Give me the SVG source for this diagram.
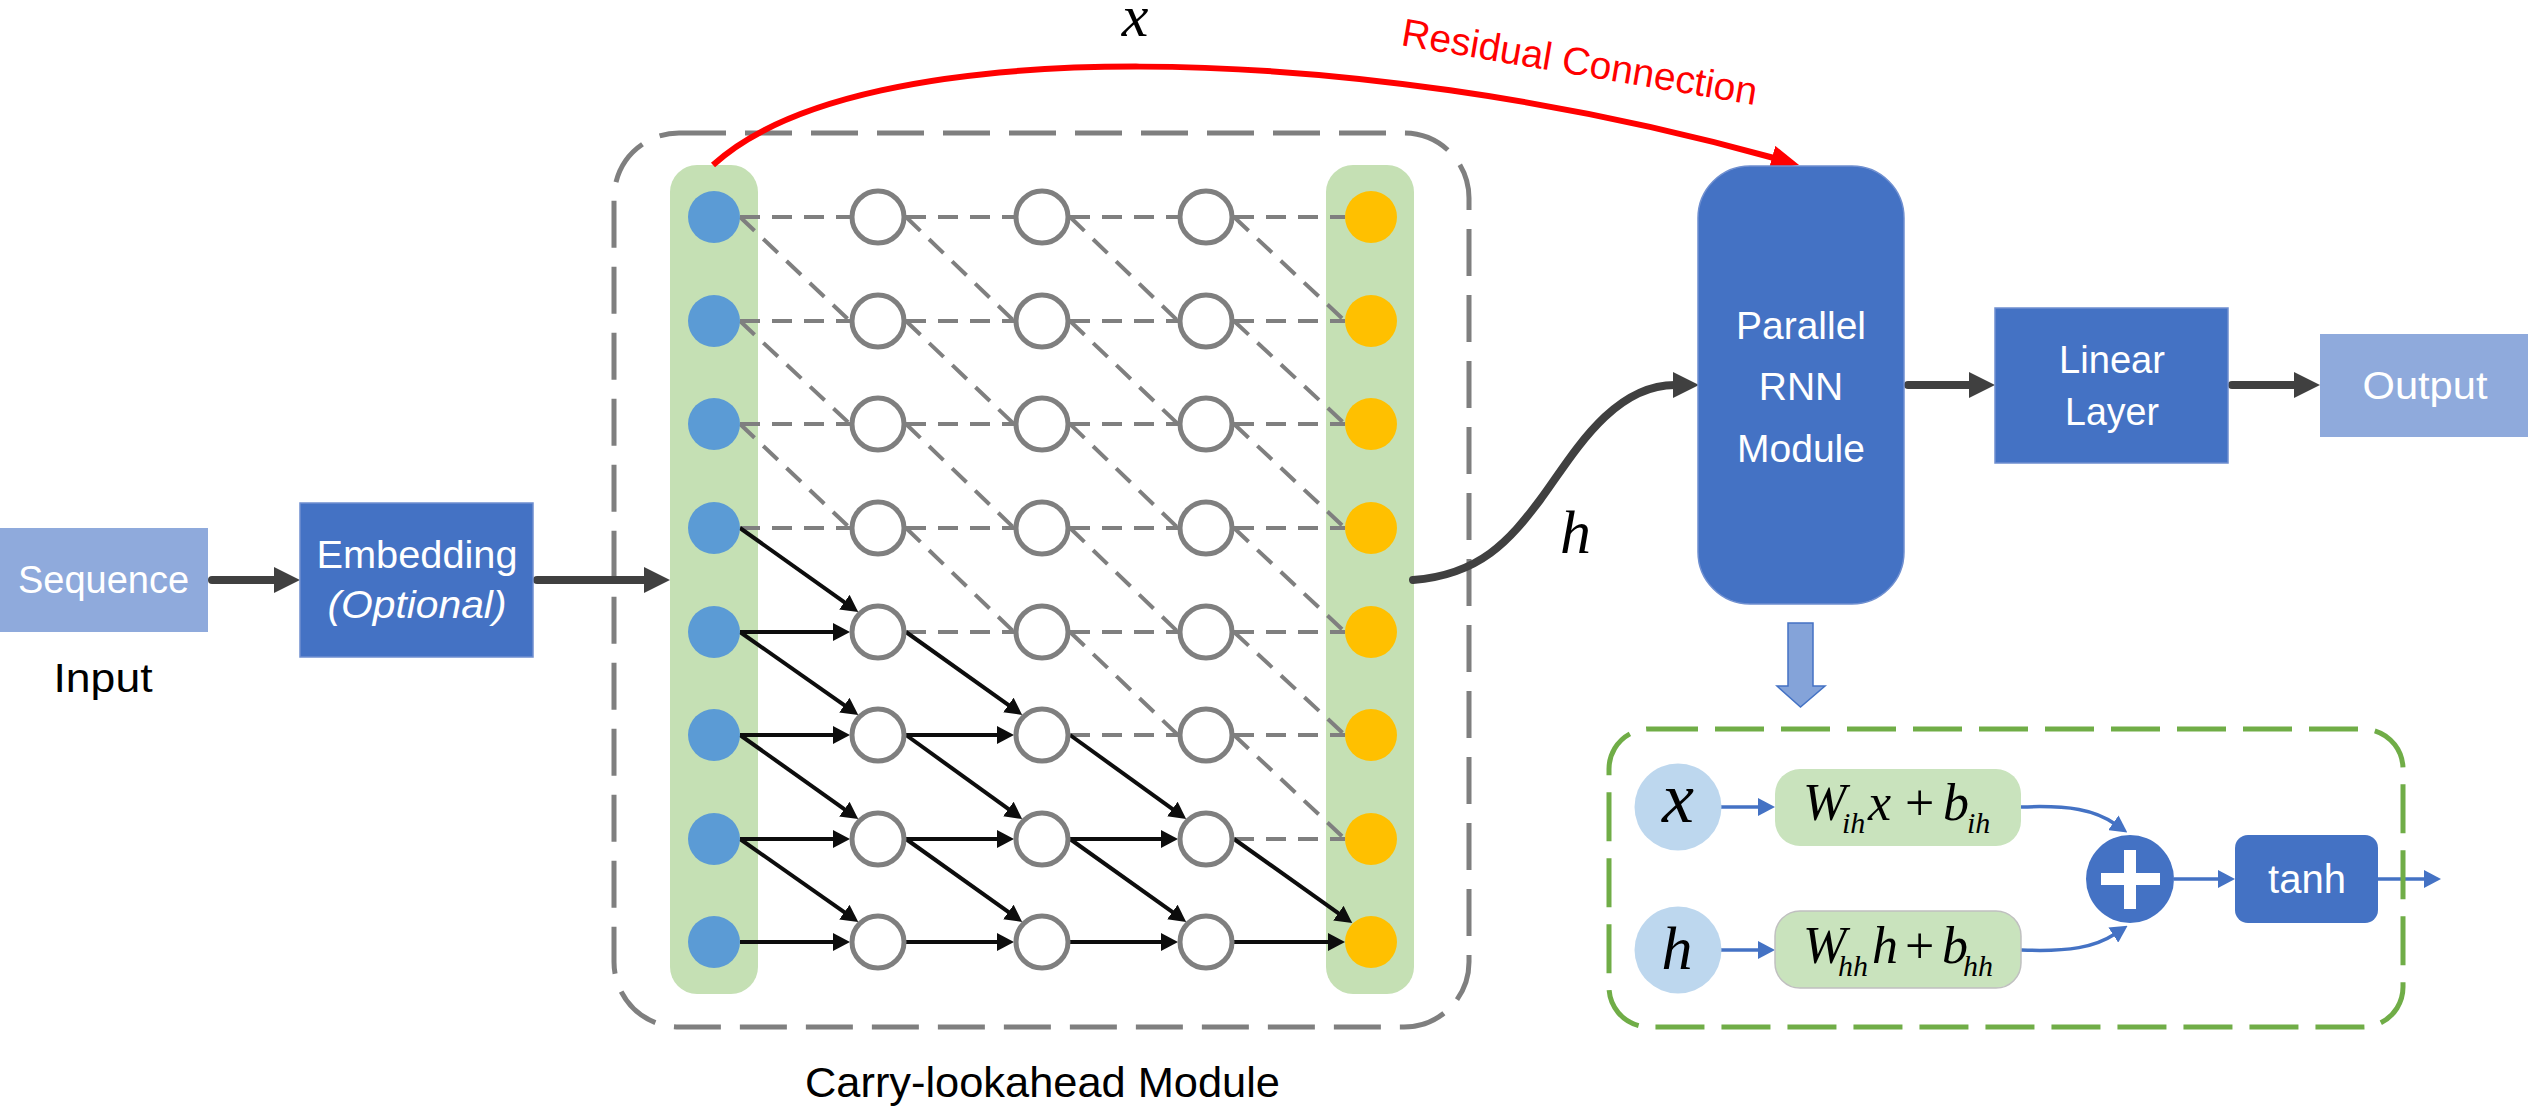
<svg xmlns="http://www.w3.org/2000/svg" width="2528" height="1107" viewBox="0 0 2528 1107">
<defs>
<style>
.sans{font-family:"Liberation Sans",Arial,sans-serif;}
.math{font-family:"Liberation Serif","Times New Roman",serif;font-style:italic;fill:#000;}
.wt{fill:#fff;}
.dark{fill:#4472C4;stroke:#6F8FD0;stroke-width:1.5;}
.light{fill:#8FAADC;}
.col{fill:#C5E0B4;}
.bnode{fill:#5B9BD5;}
.onode{fill:#FFC000;}
.hnode{fill:#fff;stroke:#7F7F7F;stroke-width:5;}
.grid{fill:none;stroke:#7F7F7F;stroke-width:4;stroke-dasharray:20 12;}
.solid{stroke:#0D0D0D;stroke-width:4;fill:none;marker-end:url(#ahBlack);}
.thick{stroke:#404040;stroke-width:8;fill:none;stroke-linecap:round;marker-end:url(#ahDark);}
.blue{stroke:#4472C4;stroke-width:3.5;fill:none;marker-end:url(#ahBlue);}
</style>
<marker id="ahBlack" markerUnits="userSpaceOnUse" viewBox="0 0 17 18" markerWidth="17" markerHeight="18" refX="2" refY="9" orient="auto"><path d="M0,0 L17,9 L0,18 z" fill="#0D0D0D"/></marker>
<marker id="ahDark" markerUnits="userSpaceOnUse" viewBox="0 0 26 26" markerWidth="26" markerHeight="26" refX="2" refY="13" orient="auto"><path d="M0,0 L26,13 L0,26 z" fill="#404040"/></marker>
<marker id="ahBlue" markerUnits="userSpaceOnUse" viewBox="0 0 17 18" markerWidth="17" markerHeight="18" refX="2" refY="9" orient="auto"><path d="M0,0 L17,9 L0,18 z" fill="#4472C4"/></marker>
<marker id="ahRed" markerUnits="userSpaceOnUse" viewBox="0 0 28 24" markerWidth="28" markerHeight="24" refX="2" refY="12" orient="auto"><path d="M0,0 L28,12 L0,24 z" fill="#FF0000"/></marker>
</defs>
<rect x="0" y="0" width="2528" height="1107" fill="#fff"/>

<g id="carry-lookahead-module">
<rect x="614" y="133" width="855" height="894" rx="65" fill="none" stroke="#7F7F7F" stroke-width="5" stroke-dasharray="47 19"/>
<text class="sans" x="805" y="1097" font-size="42" textLength="475" lengthAdjust="spacingAndGlyphs">Carry-lookahead Module</text>
</g>

<g id="input-column">
<rect class="col" x="670" y="165" width="88" height="829" rx="27"/>
</g>
<g id="output-column">
<rect class="col" x="1326" y="165" width="88" height="829" rx="27"/>
</g>

<g id="connectors">
<path class="grid" d="M740,217 H850 M740,321 H850 M740,424 H850 M740,528 H850
M740,217 L850,321 M740,321 L850,424 M740,424 L850,528"/>
<path class="grid" d="M906,217 H1014 M906,321 H1014 M906,424 H1014 M906,528 H1014 M906,632 H1014
M906,217 L1014,321 M906,321 L1014,424 M906,424 L1014,528 M906,528 L1014,632"/>
<path class="grid" d="M1070,217 H1178 M1070,321 H1178 M1070,424 H1178 M1070,528 H1178 M1070,632 H1178 M1070,735 H1178
M1070,217 L1178,321 M1070,321 L1178,424 M1070,424 L1178,528 M1070,528 L1178,632 M1070,632 L1178,735"/>
<path class="grid" d="M1234,217 H1345 M1234,321 H1345 M1234,424 H1345 M1234,528 H1345 M1234,632 H1345 M1234,735 H1345 M1234,839 H1345
M1234,217 L1345,321 M1234,321 L1345,424 M1234,424 L1345,528 M1234,528 L1345,632 M1234,632 L1345,735 M1234,735 L1345,839"/>
<line class="solid" x1="740" y1="632" x2="835" y2="632"/>
<line class="solid" x1="740" y1="735" x2="835" y2="735"/>
<line class="solid" x1="740" y1="839" x2="835" y2="839"/>
<line class="solid" x1="740" y1="942" x2="835" y2="942"/>
<line class="solid" x1="906" y1="735" x2="999" y2="735"/>
<line class="solid" x1="906" y1="839" x2="999" y2="839"/>
<line class="solid" x1="906" y1="942" x2="999" y2="942"/>
<line class="solid" x1="1070" y1="839" x2="1163" y2="839"/>
<line class="solid" x1="1070" y1="942" x2="1163" y2="942"/>
<line class="solid" x1="1234" y1="942" x2="1330" y2="942"/>
<line class="solid" x1="740" y1="528" x2="846" y2="603.3"/>
<line class="solid" x1="740" y1="632" x2="846" y2="706.3"/>
<line class="solid" x1="740" y1="735" x2="846" y2="810.3"/>
<line class="solid" x1="740" y1="839" x2="846" y2="913.3"/>
<line class="solid" x1="906" y1="632" x2="1010" y2="706.2"/>
<line class="solid" x1="906" y1="735" x2="1010" y2="810.2"/>
<line class="solid" x1="906" y1="839" x2="1010" y2="913.2"/>
<line class="solid" x1="1070" y1="735" x2="1174" y2="810.2"/>
<line class="solid" x1="1070" y1="839" x2="1174" y2="913.2"/>
<line class="solid" x1="1234" y1="839" x2="1340" y2="914.3"/>

<line class="thick" x1="212" y1="580" x2="276" y2="580"/>
<line class="thick" x1="537" y1="580" x2="646" y2="580"/>
<path class="thick" d="M1413,580 C1480,575 1510,540 1540,500 S1610,385 1675,385"/>
<line class="thick" x1="1908" y1="385" x2="1971" y2="385"/>
<line class="thick" x1="2232" y1="385" x2="2296" y2="385"/>
<path d="M713,165 C860,30 1350,40 1774,158" fill="none" stroke="#FF0000" stroke-width="6" marker-end="url(#ahRed)"/>
<line class="blue" x1="1721" y1="807" x2="1760" y2="807"/>
<line class="blue" x1="1721" y1="950" x2="1760" y2="950"/>
<path class="blue" d="M2021,807 C2070,805 2095,810 2115,824"/>
<path class="blue" d="M2021,950 C2070,952 2095,947 2115,934"/>
<line class="blue" x1="2174" y1="879" x2="2220" y2="879"/>
<line class="blue" x1="2378" y1="879" x2="2426" y2="879"/>
<polygon points="1788,623 1813,623 1813,686 1825,686 1800.5,707 1777,686 1788,686" fill="#84A3D9" stroke="#4472C4" stroke-width="1.5"/>
</g>

<g id="input-nodes">
<circle class="bnode" cx="714" cy="217" r="26"/>
<circle class="bnode" cx="714" cy="321" r="26"/>
<circle class="bnode" cx="714" cy="424" r="26"/>
<circle class="bnode" cx="714" cy="528" r="26"/>
<circle class="bnode" cx="714" cy="632" r="26"/>
<circle class="bnode" cx="714" cy="735" r="26"/>
<circle class="bnode" cx="714" cy="839" r="26"/>
<circle class="bnode" cx="714" cy="942" r="26"/>
</g>
<g id="hidden-nodes">
<circle class="hnode" cx="878" cy="217" r="26"/><circle class="hnode" cx="1042" cy="217" r="26"/><circle class="hnode" cx="1206" cy="217" r="26"/>
<circle class="hnode" cx="878" cy="321" r="26"/><circle class="hnode" cx="1042" cy="321" r="26"/><circle class="hnode" cx="1206" cy="321" r="26"/>
<circle class="hnode" cx="878" cy="424" r="26"/><circle class="hnode" cx="1042" cy="424" r="26"/><circle class="hnode" cx="1206" cy="424" r="26"/>
<circle class="hnode" cx="878" cy="528" r="26"/><circle class="hnode" cx="1042" cy="528" r="26"/><circle class="hnode" cx="1206" cy="528" r="26"/>
<circle class="hnode" cx="878" cy="632" r="26"/><circle class="hnode" cx="1042" cy="632" r="26"/><circle class="hnode" cx="1206" cy="632" r="26"/>
<circle class="hnode" cx="878" cy="735" r="26"/><circle class="hnode" cx="1042" cy="735" r="26"/><circle class="hnode" cx="1206" cy="735" r="26"/>
<circle class="hnode" cx="878" cy="839" r="26"/><circle class="hnode" cx="1042" cy="839" r="26"/><circle class="hnode" cx="1206" cy="839" r="26"/>
<circle class="hnode" cx="878" cy="942" r="26"/><circle class="hnode" cx="1042" cy="942" r="26"/><circle class="hnode" cx="1206" cy="942" r="26"/>
</g>
<g id="output-nodes">
<circle class="onode" cx="1371" cy="217" r="26"/>
<circle class="onode" cx="1371" cy="321" r="26"/>
<circle class="onode" cx="1371" cy="424" r="26"/>
<circle class="onode" cx="1371" cy="528" r="26"/>
<circle class="onode" cx="1371" cy="632" r="26"/>
<circle class="onode" cx="1371" cy="735" r="26"/>
<circle class="onode" cx="1371" cy="839" r="26"/>
<circle class="onode" cx="1371" cy="942" r="26"/>
</g>

<g id="sequence">
<rect class="light" x="0" y="528" width="208" height="104"/>
<text class="sans wt" x="103.5" y="593" font-size="38" text-anchor="middle">Sequence</text>
<text class="sans" x="103" y="692" font-size="40" text-anchor="middle" textLength="99" lengthAdjust="spacingAndGlyphs">Input</text>
</g>
<g id="embedding">
<rect class="dark" x="300" y="503" width="233" height="154"/>
<text class="sans wt" x="417" y="568" font-size="38" text-anchor="middle" textLength="201" lengthAdjust="spacingAndGlyphs">Embedding</text>
<text class="sans wt" x="417" y="618" font-size="38" font-style="italic" text-anchor="middle" textLength="179" lengthAdjust="spacingAndGlyphs">(Optional)</text>
</g>

<g id="labels">
<text class="math" x="1135" y="36" font-size="60" text-anchor="middle">x</text>
<text class="math" x="1560" y="553" font-size="62">h</text>
<text class="sans" x="1400" y="45" font-size="39" fill="#FF0000" transform="rotate(9.6 1400 45)">Residual Connection</text>
</g>

<g id="parallel-rnn">
<rect class="dark" x="1698" y="166" width="206" height="438" rx="52"/>
<text class="sans wt" x="1801" y="339" font-size="39" text-anchor="middle">Parallel</text>
<text class="sans wt" x="1801" y="400" font-size="39" text-anchor="middle">RNN</text>
<text class="sans wt" x="1801" y="462" font-size="39" text-anchor="middle">Module</text>
</g>
<g id="linear-layer">
<rect class="dark" x="1995" y="308" width="233" height="155"/>
<text class="sans wt" x="2112" y="373" font-size="39" text-anchor="middle" textLength="106" lengthAdjust="spacingAndGlyphs">Linear</text>
<text class="sans wt" x="2112" y="425" font-size="39" text-anchor="middle" textLength="94" lengthAdjust="spacingAndGlyphs">Layer</text>
</g>
<g id="output">
<rect class="light" x="2320" y="334" width="208" height="103"/>
<text class="sans wt" x="2425" y="399" font-size="39" text-anchor="middle" textLength="125" lengthAdjust="spacingAndGlyphs">Output</text>
</g>

<g id="rnn-detail">
<rect x="1609" y="729" width="794" height="298" rx="40" fill="none" stroke="#70AD47" stroke-width="5" stroke-dasharray="49 17"/>
</g>
<g id="x-input">
<circle cx="1678" cy="807" r="43.5" fill="#BDD7EE"/>
<text class="math" x="1678" y="822" font-size="72" text-anchor="middle">x</text>
</g>
<g id="h-input">
<circle cx="1678" cy="950" r="43.5" fill="#BDD7EE"/>
<text class="math" x="1677" y="969" font-size="62" text-anchor="middle">h</text>
</g>
<g id="wx-term">
<rect x="1775" y="769" width="246" height="77" rx="25" fill="#C9E3BD"/>
<text class="math" font-size="52"><tspan x="1803" y="820">W</tspan><tspan x="1842" y="833" font-size="30">ih</tspan><tspan x="1868" y="820">x</tspan><tspan x="1905" y="820" font-style="normal">+</tspan><tspan x="1943" y="820">b</tspan><tspan x="1967" y="833" font-size="30">ih</tspan></text>
</g>
<g id="wh-term">
<rect x="1775" y="911" width="246" height="77" rx="25" fill="#C9E3BD" stroke="#C0C0C0" stroke-width="1.5"/>
<text class="math" font-size="52"><tspan x="1803" y="963">W</tspan><tspan x="1838" y="976" font-size="30">hh</tspan><tspan x="1872" y="963">h</tspan><tspan x="1905" y="963" font-style="normal">+</tspan><tspan x="1942" y="963">b</tspan><tspan x="1963" y="976" font-size="30">hh</tspan></text>
</g>
<g id="sum">
<circle cx="2130" cy="879" r="44" fill="#4472C4"/>
<rect x="2101" y="873" width="59" height="12" fill="#fff"/>
<rect x="2124" y="850" width="12" height="59" fill="#fff"/>
</g>
<g id="tanh">
<rect x="2235" y="835" width="143" height="88" rx="13" fill="#4472C4"/>
<text class="sans wt" x="2307" y="893" font-size="40" text-anchor="middle">tanh</text>
</g>
</svg>
